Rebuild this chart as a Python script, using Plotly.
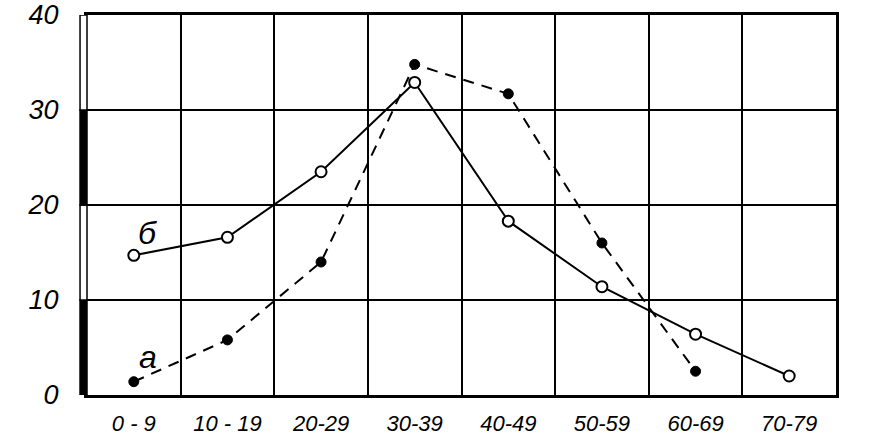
import plotly.graph_objects as go

categories = ["0 - 9", "10 - 19", "20-29", "30-39", "40-49", "50-59", "60-69", "70-79"]
series_b = [14.7, 16.6, 23.5, 32.9, 18.3, 11.4, 6.4, 2.0]
series_a = [1.4, 5.8, 14.0, 34.8, 31.7, 16.0, 2.5]
y_ticks = [0, 10, 20, 30, 40]
label_a = "а"
label_b = "б"

font_fam = "Liberation Sans, DejaVu Sans, sans-serif"

fig = go.Figure()
fig.add_trace(go.Scatter(
    x=categories[:len(series_a)], y=series_a, mode="lines+markers",
    line=dict(color="black", width=2, dash="11px,8px"),
    marker=dict(size=10, color="black", line=dict(color="black", width=1)),
    showlegend=False,
))
fig.add_trace(go.Scatter(
    x=categories, y=series_b, mode="lines+markers",
    line=dict(color="black", width=2),
    marker=dict(size=11, color="white", line=dict(color="black", width=2)),
    showlegend=False,
))

# left scale bar outside the plot: alternating black/white segments
for i in range(len(y_ticks) - 1):
    fig.add_shape(type="rect", xref="paper", yref="y",
                  x0=-0.0093, x1=0, y0=y_ticks[i], y1=y_ticks[i + 1],
                  fillcolor="black" if i % 2 == 0 else "white",
                  line=dict(color="black", width=1.5), layer="above")

fig.add_annotation(x=categories[0], y=series_b[0], text="<i>" + label_b + "</i>",
                   showarrow=False, xshift=14, yshift=22,
                   font=dict(size=32, family=font_fam, color="black"))
fig.add_annotation(x=categories[0], y=series_a[0], text="<i>" + label_a + "</i>",
                   showarrow=False, xshift=14, yshift=25,
                   font=dict(size=32, family=font_fam, color="black"))

fig.update_layout(
    width=880, height=442,
    margin=dict(l=87, r=44, t=15, b=47, autoexpand=False),
    paper_bgcolor="white", plot_bgcolor="white",
    font=dict(family=font_fam, color="black"),
    xaxis=dict(type="category", categoryorder="array", categoryarray=categories,
               tickson="boundaries", showgrid=True, gridcolor="black", gridwidth=2,
               ticks="", showline=True, linecolor="black", linewidth=3, mirror=True,
               tickfont=dict(size=22, family=font_fam), ticklabelstandoff=7,
               tickvals=categories, ticktext=["<i>" + c + "</i>" for c in categories],
               range=[-0.5, 7.5], zeroline=False, automargin=False,
               ticklabeloverflow="allow"),
    yaxis=dict(range=[0, 40], tickvals=y_ticks, ticktext=["<i>%d</i>" % v for v in y_ticks],
               showgrid=True, gridcolor="black", gridwidth=2, zeroline=False,
               ticks="", showline=True, linecolor="black", linewidth=3, mirror=True,
               tickfont=dict(size=27, family=font_fam), ticklabelstandoff=20,
               automargin=False, ticklabeloverflow="allow"),
)

fig.write_html("out.html", config={"displayModeBar": False},
               post_script="document.body.style.margin='0';")
